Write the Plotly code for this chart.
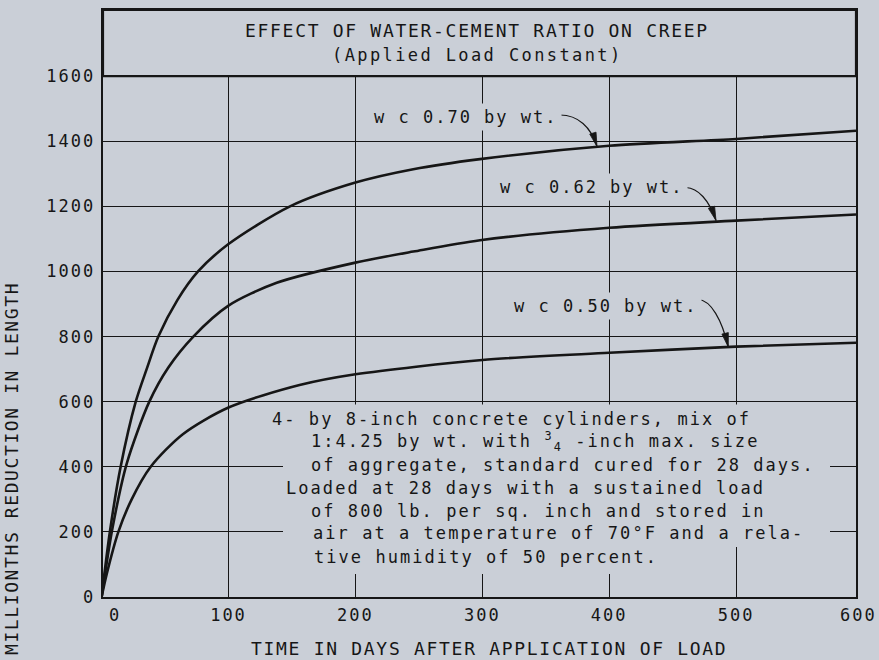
import math
import plotly.graph_objects as go

# ---------------- data ----------------
days_070 = [0, 6.5, 15, 26.9, 35.5, 44.7, 59.7, 76, 100, 148.5, 200, 245.6, 298.2, 400, 500, 594.5]
creep_070 = [0, 200, 400, 600, 700, 800, 912, 1000, 1084, 1200, 1273, 1314, 1345, 1386, 1407, 1432]

days_062 = [0, 8.5, 19.8, 37.6, 52.6, 72.3, 100, 138, 200, 245.6, 298.2, 400, 500, 594.5]
creep_062 = [0, 210, 410, 600, 705, 800, 895, 965, 1027, 1061, 1096, 1134, 1156, 1175]

days_050 = [0, 4, 13.2, 23.7, 38.7, 64, 100, 156, 200, 300, 400, 500, 594.5]
creep_050 = [0, 70, 200, 300, 400, 500, 582, 651, 684, 728, 750, 769, 781]

x_tick_vals = [100, 200, 300, 400, 500]
x_tick_labels = ["100", "200", "300", "400", "500"]
x_end_labels = ["0", "600"]
y_tick_vals = [0, 200, 400, 600, 800, 1000, 1200, 1400, 1600]
y_tick_labels = ["0", "200", "400", "600", "800", "1000", "1200", "1400", "1600"]

curve_labels = ["w c 0.70 by wt.", "w c 0.62 by wt.", "w c 0.50 by wt."]

title_text = "EFFECT OF WATER-CEMENT RATIO ON CREEP"
subtitle_text = "(Applied Load Constant)"
x_title = "TIME IN DAYS AFTER APPLICATION OF LOAD"
y_title = "MILLIONTHS REDUCTION IN LENGTH"

note_lines = [
    "4- by 8-inch concrete cylinders, mix of",
    "1:4.25 by wt. with <sup>3</sup><sub>4</sub> -inch max. size",
    "of aggregate, standard cured for 28 days.",
    "Loaded at 28 days with a sustained load",
    "of 800 lb. per sq. inch and stored in",
    "air at a temperature of 70\u00b0F and a rela-",
    "tive humidity of 50 percent.",
]

# ---------------- layout geometry ----------------
W, H = 879, 660
ML, MR, MT, MB = 103, 23, 10, 63
PW, PH = W - ML - MR, H - MT - MB
XR = [1.1, 594.5]
YR = [0, 1803]

BG = "#cacfd7"
INK = "#161616"
FONT = "DejaVu Sans Mono"


def dx(px):
    return XR[0] + (px - ML) / PW * (XR[1] - XR[0])


def dy(py):
    return YR[0] + (H - MB - py) / PH * (YR[1] - YR[0])


def px_paper_x(px):
    return (px - ML) / PW


def px_paper_y(py):
    return (H - MB - py) / PH


def sp(t, s=2.0):
    return f"<span style='letter-spacing:{s}px'>{t}</span>"


fig = go.Figure()

for d, c in [(days_070, creep_070), (days_062, creep_062), (days_050, creep_050)]:
    fig.add_trace(go.Scatter(
        x=d, y=c, mode="lines",
        line=dict(color=INK, width=2.6, shape="spline", smoothing=0.8),
        hoverinfo="skip", showlegend=False,
    ))

shapes = []
# title box (hides vertical grid above 1600)
shapes.append(dict(type="rect", xref="paper", yref="y", x0=0, x1=1, y0=1600, y1=YR[1],
                   fillcolor=BG, line=dict(color=INK, width=2.2), layer="above"))
# erase the grid behind the note block
mask = (f"M {dx(283)},{dy(404.5)} L {dx(830)},{dy(404.5)} L {dx(830)},{dy(547)} "
        f"L {dx(680)},{dy(547)} L {dx(680)},{dy(574)} L {dx(283)},{dy(574)} Z")
shapes.append(dict(type="path", xref="x", yref="y", path=mask,
                   fillcolor=BG, line=dict(width=0), layer="above"))

# curved leaders from labels to curves, with arrowheads
leaders = [
    [(560, 115), (578, 115), (591, 127), (597, 146.5)],
    [(686, 187.5), (698, 188), (709, 200), (716, 220.5)],
    [(698, 299.5), (711, 300), (722, 320), (728.3, 347)],
]
for pts in leaders:
    (a, b), (c1, c2), (e1, e2), (f1, f2) = pts
    path = f"M {dx(a)},{dy(b)} C {dx(c1)},{dy(c2)} {dx(e1)},{dy(e2)} {dx(f1)},{dy(f2)}"
    shapes.append(dict(type="path", xref="x", yref="y", path=path,
                       line=dict(color=INK, width=1.2), layer="above"))
    ux, uy = f1 - e1, f2 - e2
    n = math.hypot(ux, uy)
    ux, uy = ux / n, uy / n
    L, hw = 14, 3.3
    bx, by = f1 - ux * L, f2 - uy * L
    p1 = (bx - uy * hw, by + ux * hw)
    p2 = (bx + uy * hw, by - ux * hw)
    head = (f"M {dx(f1)},{dy(f2)} L {dx(p1[0])},{dy(p1[1])} "
            f"L {dx(p2[0])},{dy(p2[1])} Z")
    shapes.append(dict(type="path", xref="x", yref="y", path=head,
                       fillcolor=INK, line=dict(color=INK, width=0.8), layer="above"))

ann = []
# titles
ann.append(dict(xref="paper", yref="paper", x=px_paper_x(477), y=px_paper_y(30.5),
                text=sp(title_text, 1.7), showarrow=False,
                font=dict(family=FONT, size=18, color=INK), xanchor="center", yanchor="middle"))
ann.append(dict(xref="paper", yref="paper", x=px_paper_x(477), y=px_paper_y(55),
                text=sp(subtitle_text, 2.4), showarrow=False,
                font=dict(family=FONT, size=17, color=INK), xanchor="center", yanchor="middle"))

# curve labels (opaque, they interrupt grid lines)
label_pos = [(370, 116.7), (496, 186.7), (510, 306)]
for txt, (lx, ly) in zip(curve_labels, label_pos):
    ann.append(dict(xref="x", yref="y", x=dx(lx), y=dy(ly), text=sp(txt, 2.0),
                    showarrow=False, xanchor="left", yanchor="middle",
                    bgcolor=BG, borderpad=3,
                    font=dict(family=FONT, size=17, color=INK)))

# note block
note_pos = [(270, 419.3), (309, 441), (309, 465), (283.5, 488.3), (309, 511), (310.5, 533.3), (311.5, 556.7)]
for txt, (lx, ly) in zip(note_lines, note_pos):
    ann.append(dict(xref="x", yref="y", x=dx(lx), y=dy(ly), text=sp(txt, 2.05),
                    showarrow=False, xanchor="left", yanchor="middle",
                    font=dict(family=FONT, size=17, color=INK)))

# end tick labels of the x axis
for txt, px in zip(x_end_labels, [115, 858.5]):
    ann.append(dict(xref="paper", yref="paper", x=px_paper_x(px), y=px_paper_y(615),
                    text=sp(txt, 2.0), showarrow=False, xanchor="center", yanchor="middle",
                    font=dict(family=FONT, size=17, color=INK)))

# axis titles
ann.append(dict(xref="paper", yref="paper", x=px_paper_x(489), y=px_paper_y(648.5),
                text=sp(x_title, 1.7), showarrow=False, xanchor="center", yanchor="middle",
                font=dict(family=FONT, size=18, color=INK)))
ann.append(dict(xref="paper", yref="paper", x=px_paper_x(11), y=px_paper_y(469),
                text=sp(y_title, 1.6), showarrow=False, textangle=-90,
                xanchor="center", yanchor="middle",
                font=dict(family=FONT, size=18, color=INK)))

fig.update_layout(
    width=W, height=H,
    margin=dict(l=ML, r=MR, t=MT, b=MB, autoexpand=False),
    paper_bgcolor=BG, plot_bgcolor=BG,
    shapes=shapes, annotations=ann,
    showlegend=False,
)
fig.update_xaxes(
    range=XR, tickvals=x_tick_vals, ticktext=[sp(t) for t in x_tick_labels],
    showgrid=True, gridcolor=INK, gridwidth=1, zeroline=False,
    showline=True, linecolor=INK, linewidth=2.4, mirror=True,
    ticks="", ticklabelstandoff=1,
    tickfont=dict(family=FONT, size=17, color=INK),
)
fig.update_yaxes(
    range=YR, tickvals=y_tick_vals, ticktext=[sp(t) for t in y_tick_labels],
    showgrid=True, gridcolor=INK, gridwidth=1, zeroline=False,
    showline=True, linecolor=INK, linewidth=2.4, mirror=True,
    ticks="", ticklabelstandoff=2,
    tickfont=dict(family=FONT, size=17, color=INK),
)

fig.write_html(
    "out.html",
    config={"displayModeBar": False, "staticPlot": True},
    post_script="document.body.style.margin='0px';document.body.style.overflow='hidden';",
)
